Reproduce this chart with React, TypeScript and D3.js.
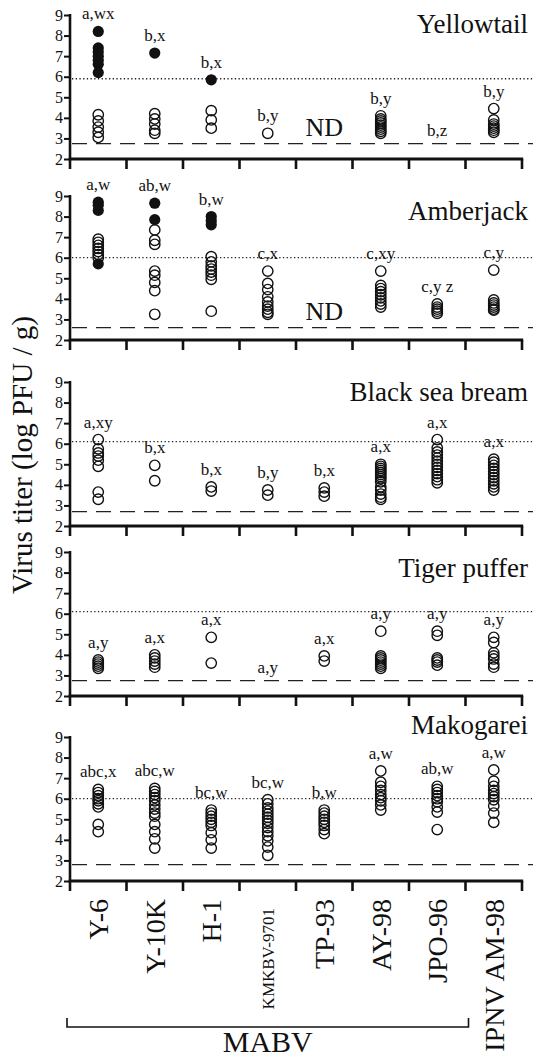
import React, { useEffect, useRef } from "react";
import * as d3 from "d3";

const strains = ["Y-6", "Y-10K", "H-1", "KMKBV-9701", "TP-93", "AY-98", "JPO-96", "IPNV AM-98"];
const mabvStrains = ["Y-6", "Y-10K", "H-1", "KMKBV-9701", "TP-93", "AY-98", "JPO-96"];
const fishNames = ["Yellowtail", "Amberjack", "Black sea bream", "Tiger puffer", "Makogarei"];
const yTicks = [2, 3, 4, 5, 6, 7, 8, 9];

// open circles per strain, closed circles per strain
const yellowtailOpen = [
	[4.15, 3.85, 3.55, 3.3, 3.05],
	[4.2, 3.95, 3.7, 3.4, 3.25],
	[4.35, 3.9, 3.5],
	[3.25],
	[],
	[4.1, 3.95, 3.85, 3.75, 3.65, 3.55, 3.45, 3.35, 3.25],
	[],
	[4.45, 3.9, 3.7, 3.6, 3.5, 3.4, 3.3],
];
const yellowtailClosed = [[8.2, 7.4, 7.2, 7.0, 6.8, 6.6, 6.2], [7.15], [5.85], [], [], [], [], []];
const yellowtailLetters = ["a,wx", "b,x", "b,x", "b,y", "", "b,y", "b,z", "b,y"];

const amberjackOpen = [
	[6.9, 6.75, 6.6, 6.45, 6.3, 6.15, 6.0],
	[7.35, 6.85, 6.65, 5.35, 5.15, 4.8, 4.4, 3.25],
	[6.05, 5.8, 5.6, 5.45, 5.3, 5.15, 4.95, 3.4],
	[5.35, 4.75, 4.45, 4.1, 3.85, 3.65, 3.5, 3.35, 3.25],
	[],
	[5.35, 4.65, 4.5, 4.35, 4.2, 4.05, 3.9, 3.75, 3.6],
	[3.75, 3.6, 3.5, 3.4, 3.3],
	[5.4, 3.95, 3.8, 3.7, 3.6, 3.5, 3.45],
];
const amberjackClosed = [[8.7, 8.55, 8.3, 5.7], [8.65, 7.85], [8.0, 7.8, 7.6], [], [], [], [], []];
const amberjackLetters = ["a,w", "ab,w", "b,w", "c,x", "", "c,xy", "c,y z", "c,y"];

const breamOpen = [
	[6.2, 5.75, 5.55, 5.4, 5.2, 4.9, 3.65, 3.3],
	[4.95, 4.2],
	[3.9, 3.7],
	[3.75, 3.5],
	[3.85, 3.65, 3.45],
	[5.0, 4.9, 4.8, 4.7, 4.6, 4.5, 4.4, 4.3, 4.15, 3.9, 3.75, 3.55, 3.4, 3.3],
	[6.2, 5.8, 5.6, 5.45, 5.3, 5.15, 5.0, 4.85, 4.7, 4.55, 4.4, 4.25, 4.1],
	[5.25, 5.1, 4.95, 4.8, 4.65, 4.5, 4.35, 4.2, 4.05, 3.9, 3.75],
];
const breamLetters = ["a,xy", "b,x", "b,x", "b,y", "b,x", "a,x", "a,x", "a,x"];

const pufferOpen = [
	[3.75, 3.65, 3.55, 3.45, 3.35],
	[4.0, 3.85, 3.7, 3.55, 3.4],
	[4.85, 3.6],
	[],
	[3.95, 3.7],
	[5.15, 3.95, 3.85, 3.75, 3.65, 3.55, 3.45, 3.35],
	[5.15, 4.95, 3.85, 3.75, 3.65, 3.5],
	[4.85, 4.6, 4.1, 3.95, 3.8, 3.55, 3.4],
];
const pufferLetters = ["a,y", "a,x", "a,x", "a,y", "a,x", "a,y", "a,y", "a,y"];

const makogareiOpen = [
	[6.45, 6.3, 6.15, 6.0, 5.9, 5.75, 5.6, 4.75, 4.4],
	[6.5, 6.35, 6.2, 6.05, 5.9, 5.7, 5.5, 5.3, 5.15, 4.75, 4.4, 4.05, 3.6],
	[5.45, 5.3, 5.15, 5.0, 4.85, 4.7, 4.35, 4.0, 3.6],
	[5.95, 5.75, 5.55, 5.4, 5.25, 5.1, 4.95, 4.8, 4.6, 4.4, 4.2, 3.95, 3.65, 3.25],
	[5.45, 5.3, 5.15, 5.0, 4.85, 4.7, 4.5, 4.3],
	[7.35, 6.8, 6.6, 6.4, 6.2, 6.05, 5.9, 5.7, 5.45],
	[6.6, 6.45, 6.3, 6.15, 6.0, 5.85, 5.6, 5.35, 4.5],
	[7.4, 6.85, 6.6, 6.4, 6.25, 6.1, 5.95, 5.65, 5.3, 4.85],
];
const makogareiLetters = ["abc,x", "abc,w", "bc,w", "bc,w", "b,w", "a,w", "ab,w", "a,w"];

const noClosed = [[], [], [], [], [], [], [], []];
const openTiters = [yellowtailOpen, amberjackOpen, breamOpen, pufferOpen, makogareiOpen];
const closedTiters = [yellowtailClosed, amberjackClosed, noClosed, noClosed, noClosed];
const letters = [yellowtailLetters, amberjackLetters, breamLetters, pufferLetters, makogareiLetters];
const notDetermined = [["TP-93"], ["TP-93"], [], [], []];
const dottedLevel = [5.9, 6.0, 6.1, 6.1, 6.0];
const dashedLevel = [2.75, 2.6, 2.7, 2.75, 2.8];

const W = 533,
	H = 1060;
const FONT = "'Liberation Serif', 'Times New Roman', serif";

function draw(ref: SVGSVGElement | null) {
	if (!ref) return;
	const svg = d3.select(ref).attr("width", W).attr("height", H).attr("viewBox", `0 0 ${W} ${H}`);
	svg.selectAll("*").remove();
	svg.append("rect").attr("width", W).attr("height", H).attr("fill", "white");

	const left = 70,
		right = 522;
	const x = d3.scaleBand().domain(strains).range([left, right]);
	const panelTops = [15, 196, 382, 552, 737];
	const panelH = 144;
	const titleDy = [18, 24, 19, 25, -3];
	const r = 5.2;

	fishNames.forEach((fish, i) => {
		const top = panelTops[i];
		const y = d3.scaleLinear().domain([2, 9]).range([top + panelH, top]);
		const g = svg.append("g");

		// reference lines
		g.append("line")
			.attr("x1", left + 2)
			.attr("x2", W)
			.attr("y1", y(dottedLevel[i]))
			.attr("y2", y(dottedLevel[i]))
			.attr("stroke", "#222")
			.attr("stroke-width", 1.3)
			.attr("stroke-dasharray", "1.3 2.4");
		g.append("line")
			.attr("x1", left + 2)
			.attr("x2", W)
			.attr("y1", y(dashedLevel[i]))
			.attr("y2", y(dashedLevel[i]))
			.attr("stroke", "#222")
			.attr("stroke-width", 1.3)
			.attr("stroke-dasharray", "15 9");

		// y axis
		const yAxis = g
			.append("g")
			.attr("transform", `translate(${left},0)`)
			.call(d3.axisLeft(y).tickValues(yTicks).tickSize(6).tickPadding(1).tickFormat(d3.format("d")));
		yAxis.select(".domain").remove();
		yAxis.selectAll(".tick line").attr("stroke", "#111").attr("stroke-width", 2);
		yAxis.selectAll(".tick text").attr("font-family", FONT).attr("font-size", 16).attr("fill", "#111");
		g.append("line")
			.attr("x1", left)
			.attr("x2", left)
			.attr("y1", y(9) - 1)
			.attr("y2", y(2))
			.attr("stroke", "#111")
			.attr("stroke-width", 2.6);

		// x axis
		const base = y(2);
		g.append("line")
			.attr("x1", left - 1.3)
			.attr("x2", right + 1.2)
			.attr("y1", base)
			.attr("y2", base)
			.attr("stroke", "#111")
			.attr("stroke-width", 3);
		const bounds = strains.map((s) => x(s) as number).concat([right]);
		g.selectAll(".xtick")
			.data(bounds)
			.join("line")
			.attr("x1", (d) => d)
			.attr("x2", (d) => d)
			.attr("y1", base)
			.attr("y2", base + 10)
			.attr("stroke", "#111")
			.attr("stroke-width", 2.6);

		// title
		g.append("text")
			.attr("x", 528)
			.attr("y", top + titleDy[i])
			.attr("text-anchor", "end")
			.attr("font-family", FONT)
			.attr("font-size", 27)
			.attr("fill", "#111")
			.text(fish);

		strains.forEach((s, j) => {
			const cx = (x(s) as number) + x.bandwidth() / 2;
			const open = openTiters[i][j];
			const closed = closedTiters[i][j];
			g.selectAll(null)
				.data(open)
				.join("circle")
				.attr("cx", cx)
				.attr("cy", (d) => y(d))
				.attr("r", r)
				.attr("fill", "none")
				.attr("stroke", "#111")
				.attr("stroke-width", 1.4);
			g.selectAll(null)
				.data(closed)
				.join("circle")
				.attr("cx", cx)
				.attr("cy", (d) => y(d))
				.attr("r", r + 0.4)
				.attr("fill", "#111");

			const all = open.concat(closed);
			if (notDetermined[i].includes(s)) {
				g.append("text")
					.attr("x", cx)
					.attr("y", y(dashedLevel[i]) - 8)
					.attr("text-anchor", "middle")
					.attr("font-family", FONT)
					.attr("font-size", 26)
					.attr("fill", "#111")
					.text("ND");
			}
			if (letters[i][j]) {
				const ly = all.length ? y(d3.max(all) as number) - 12 : y(dashedLevel[i]) - 8;
				g.append("text")
					.attr("x", cx)
					.attr("y", ly)
					.attr("text-anchor", "middle")
					.attr("font-family", FONT)
					.attr("font-size", 17)
					.attr("fill", "#111")
					.text(letters[i][j]);
			}
		});
	});

	// y axis title
	svg.append("text")
		.attr("transform", "translate(32,455) rotate(-90)")
		.attr("text-anchor", "middle")
		.attr("font-family", FONT)
		.attr("font-size", 29)
		.attr("fill", "#111")
		.text("Virus titer (log PFU / g)");

	// strain labels
	svg.selectAll(".xlab")
		.data(strains)
		.join("text")
		.attr("transform", (d) => {
			const cx = (x(d) as number) + x.bandwidth() / 2;
			const small = d === "KMKBV-9701";
			return `translate(${cx + (small ? 6 : 10)},${small ? 908 : 899}) rotate(-90)`;
		})
		.attr("text-anchor", "end")
		.attr("font-family", FONT)
		.attr("font-size", (d) => (d === "KMKBV-9701" ? 17 : 28))
		.attr("fill", "#111")
		.text((d) => d);

	// MABV bracket
	const bx1 = (x(mabvStrains[0]) as number) - 3;
	const last = mabvStrains[mabvStrains.length - 1];
	const bx2 = (x(last) as number) + x.bandwidth() + 3;
	svg.append("path")
		.attr("d", `M${bx1},1018V1027H${bx2}V1018`)
		.attr("fill", "none")
		.attr("stroke", "#111")
		.attr("stroke-width", 1.6);
	svg.append("text")
		.attr("x", (bx1 + bx2) / 2)
		.attr("y", 1052)
		.attr("text-anchor", "middle")
		.attr("font-family", FONT)
		.attr("font-size", 30)
		.attr("fill", "#111")
		.text("MABV");
}

export default function App() {
	const ref = useRef<SVGSVGElement>(null);
	useEffect(() => {
		draw(ref.current);
	}, []);
	return (
		<div style={{ position: "absolute", left: 0, top: 0 }}>
			<svg ref={ref} style={{ display: "block" }} />
		</div>
	);
}
